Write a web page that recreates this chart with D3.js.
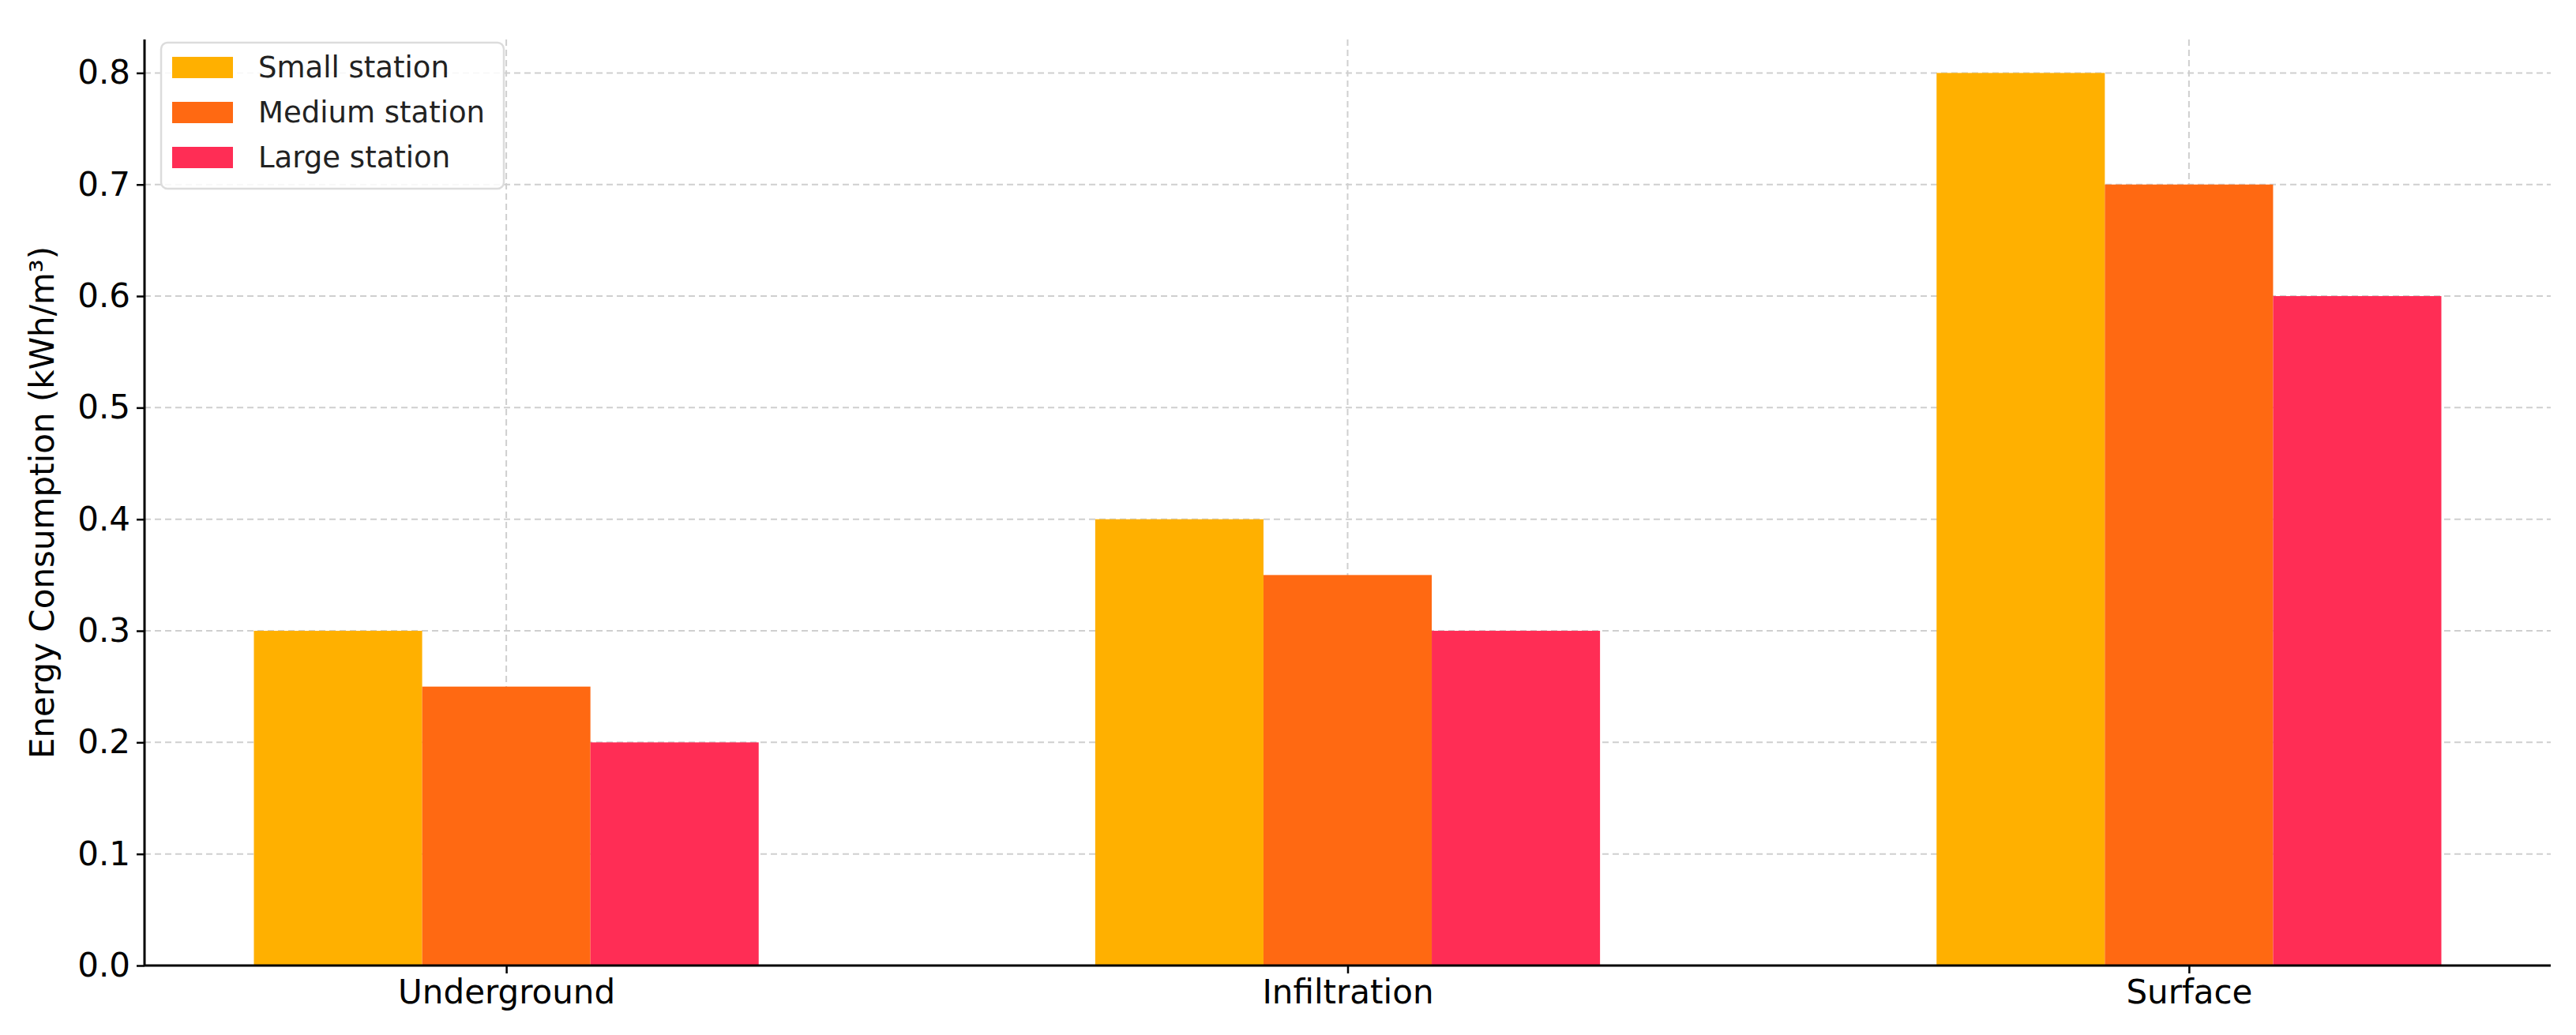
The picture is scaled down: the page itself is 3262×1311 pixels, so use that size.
<!DOCTYPE html>
<html><head><meta charset="utf-8">
<script src="https://cdn.jsdelivr.net/npm/d3@7"></script>
<style>body{margin:0;background:#fff}</style></head>
<body><svg id="c" width="3262" height="1311"></svg>
<script>
const categories = ["Underground", "Infiltration", "Surface"];
const seriesNames = ["Small station", "Medium station", "Large station"];
const small = [0.3, 0.4, 0.8];
const medium = [0.25, 0.35, 0.7];
const large = [0.2, 0.3, 0.6];
const colors = ["#FFB000", "#FF6912", "#FF2D55"];
const yTicks = [0, 0.1, 0.2, 0.3, 0.4, 0.5, 0.6, 0.7, 0.8];
const series = [small, medium, large];

const svg = d3.select("#c");
const L = 183, R = 3230, T = 50, B = 1223;
const x = d3.scaleLinear().domain([-0.43, 2.43]).range([L, R]);
const y = d3.scaleLinear().domain([0, 0.83]).range([B, T]);
const font = "DejaVu Sans";

// grid
svg.append("g").selectAll("line").data(yTicks).join("line")
  .attr("x1", L).attr("x2", R).attr("y1", d => y(d)).attr("y2", d => y(d))
  .attr("stroke", "#cfcfcf").attr("stroke-width", 2).attr("stroke-dasharray", "8,5");
svg.append("g").selectAll("line").data(categories).join("line")
  .attr("x1", (d, i) => x(i)).attr("x2", (d, i) => x(i)).attr("y1", T).attr("y2", B)
  .attr("stroke", "#cfcfcf").attr("stroke-width", 2).attr("stroke-dasharray", "8,5");

// bars
const w = 0.2;
series.forEach((s, si) => {
  svg.append("g").selectAll("rect").data(s).join("rect")
    .attr("x", (d, i) => x(i + (si - 1) * w - w / 2))
    .attr("width", x(w) - x(0))
    .attr("y", d => y(d)).attr("height", d => B - y(d))
    .attr("fill", colors[si]);
});

// axes
const ya = svg.append("g").attr("transform", `translate(${L},0)`)
  .call(d3.axisLeft(y).tickValues(yTicks).tickFormat(d3.format(".1f")).tickSize(10).tickPadding(8));
const xa = svg.append("g").attr("transform", `translate(0,${B})`)
  .call(d3.axisBottom(x).tickValues([0, 1, 2]).tickFormat(i => categories[i]).tickSize(10).tickPadding(8));
[ya, xa].forEach(a => {
  a.select(".domain").remove();
  a.selectAll("line").attr("stroke", "#000").attr("stroke-width", 2.5);
  a.selectAll("text").attr("font-family", font).attr("font-size", 42).attr("fill", "#000");
});
svg.append("line").attr("x1", L).attr("x2", L).attr("y1", T).attr("y2", B).attr("stroke", "#000").attr("stroke-width", 3);
svg.append("line").attr("x1", L).attr("x2", R).attr("y1", B).attr("y2", B).attr("stroke", "#000").attr("stroke-width", 3);

svg.append("text").attr("transform", `translate(68,${(T + B) / 2}) rotate(-90)`)
  .attr("text-anchor", "middle").attr("font-family", font).attr("font-size", 42)
  .text("Energy Consumption (kWh/m³)");

// legend
const lg = svg.append("g");
lg.append("rect").attr("x", 204).attr("y", 54).attr("width", 434).attr("height", 185).attr("rx", 8)
  .attr("fill", "#fff").attr("fill-opacity", 0.85).attr("stroke", "#dcdcdc").attr("stroke-width", 2.5);
seriesNames.forEach((n, i) => {
  const cy = 85 + i * 57;
  lg.append("rect").attr("x", 218).attr("y", cy - 13).attr("width", 77).attr("height", 27).attr("fill", colors[i]);
  lg.append("text").attr("x", 327).attr("y", cy).attr("dy", "0.35em").attr("font-family", font)
    .attr("font-size", 37).attr("fill", "#222").text(n);
});
</script></body></html>
